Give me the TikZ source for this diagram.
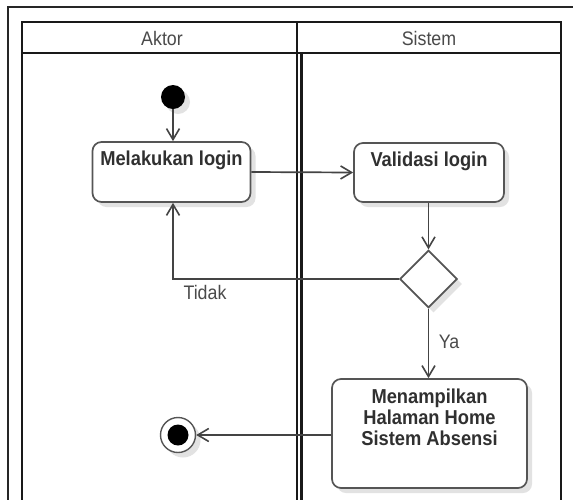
\documentclass[tikz,border=0pt]{standalone}
\usepackage{fontspec}
\usepackage{graphicx}
\setmainfont{Liberation Sans}
\usetikzlibrary{arrows.meta,shapes.geometric,shadows,calc}
\definecolor{lineclr}{HTML}{444444}
\definecolor{boxclr}{HTML}{555555}
\definecolor{txtclr}{HTML}{303030}
\definecolor{hdrclr}{HTML}{4A4A4A}
\definecolor{shadowclr}{HTML}{E2E2E2}
% slightly taller lettering
\newcommand{\tallText}[1]{\scalebox{1}[1.1]{#1}}
\tikzset{
  lane/.style={draw=black!90, line width=2.2pt},
  frame/.style={draw=black!85, line width=1.8pt},
  softshadow/.style={drop shadow={shadow xshift=5pt, shadow yshift=-5pt, fill=shadowclr, opacity=1}},
  actbox/.style={draw=boxclr, line width=1.7pt, fill=white, rounded corners=9pt, inner sep=0pt, softshadow},
  decision/.style={diamond, aspect=1, draw=boxclr, line width=1.7pt, fill=white, minimum size=57.5pt, inner sep=0pt, softshadow},
  startnode/.style={circle, fill=black, minimum size=24pt, inner sep=0pt, softshadow},
  endnode/.style={circle, draw=boxclr, line width=1.4pt, fill=white, minimum size=35pt, inner sep=0pt, softshadow,
    path picture={\fill[black] (path picture bounding box.center) circle (10.5pt);}},
  boxtext/.style={font=\fontsize{18.3}{19}\selectfont\bfseries, text=txtclr, align=center, inner sep=0pt},
  hdrtext/.style={font=\fontsize{17.8}{20}\selectfont, text=hdrclr, inner sep=0pt},
  edgetext/.style={font=\fontsize{17.8}{20}\selectfont, text=hdrclr, inner sep=0pt},
  flow/.style={draw=lineclr, line width=1.7pt, -{Straight Barb[length=11pt, width=13pt, line width=1.6pt]}},
}
\begin{document}
\begin{tikzpicture}[x=1pt, y=-1pt]
  \useasboundingbox (0,0) rectangle (573,499);
  \fill[white] (0,0) rectangle (573,499);
  \clip (0,0) rectangle (573,499);

  % outer frame
  \draw[frame] (8,510) -- (8,7) -- (580,7);

  % swimlane pool with two lanes
  \draw[lane] (22,510) -- (22,22) -- (561,22) -- (561,510);
  \draw[lane] (22,53) -- (561,53);
  \draw[lane] (297,22) -- (297,510);
  \draw[lane] (301.5,53) -- (301.5,510);
  \node[hdrtext] (hdrA) at (162,38) {\tallText{Aktor}};
  \node[hdrtext] (hdrS) at (429,38) {\tallText{Sistem}};

  % activity nodes
  \node[startnode] (start) at (173,97) {};
  \node[actbox, minimum width=158pt, minimum height=60pt] (login) at (171.5,172) {};
  \node[boxtext, anchor=north] (loginT) at ([yshift=-10pt]login.north) {\tallText{Melakukan login}};
  \node[actbox, minimum width=150pt, minimum height=59pt] (valid) at (429,172.5) {};
  \node[boxtext, anchor=north] (validT) at ([yshift=-10pt]valid.north) {\tallText{Validasi login}};
  \node[decision] (dec) at (428.5,279) {};
  \node[actbox, minimum width=195pt, minimum height=109pt] (home) at (429.5,433.5) {};
  \node[boxtext, anchor=north] (homeT) at ([yshift=-11pt]home.north)
    {\tallText{\begin{tabular}{@{}c@{}}Menampilkan\\Halaman Home\\Sistem Absensi\end{tabular}}};
  \node[endnode] (finish) at (178,435) {};

  % control flow
  \draw[flow] (start) -- (start |- login.north);
  \draw[flow] (login.east) -- (valid.west);
  \draw[flow] (valid.south -| dec.north) -- (dec.north);
  \draw[flow] (dec.west) -| (login.south -| start);
  \node[edgetext] (lblNo) at (205,292) {\tallText{Tidak}};
  \draw[flow] (dec.south) -- (home.north -| dec.south);
  \node[edgetext] (lblYes) at (449,342) {\tallText{Ya}};
  \draw[flow] (home.west |- finish) -- (finish.east);
\end{tikzpicture}
\end{document}
